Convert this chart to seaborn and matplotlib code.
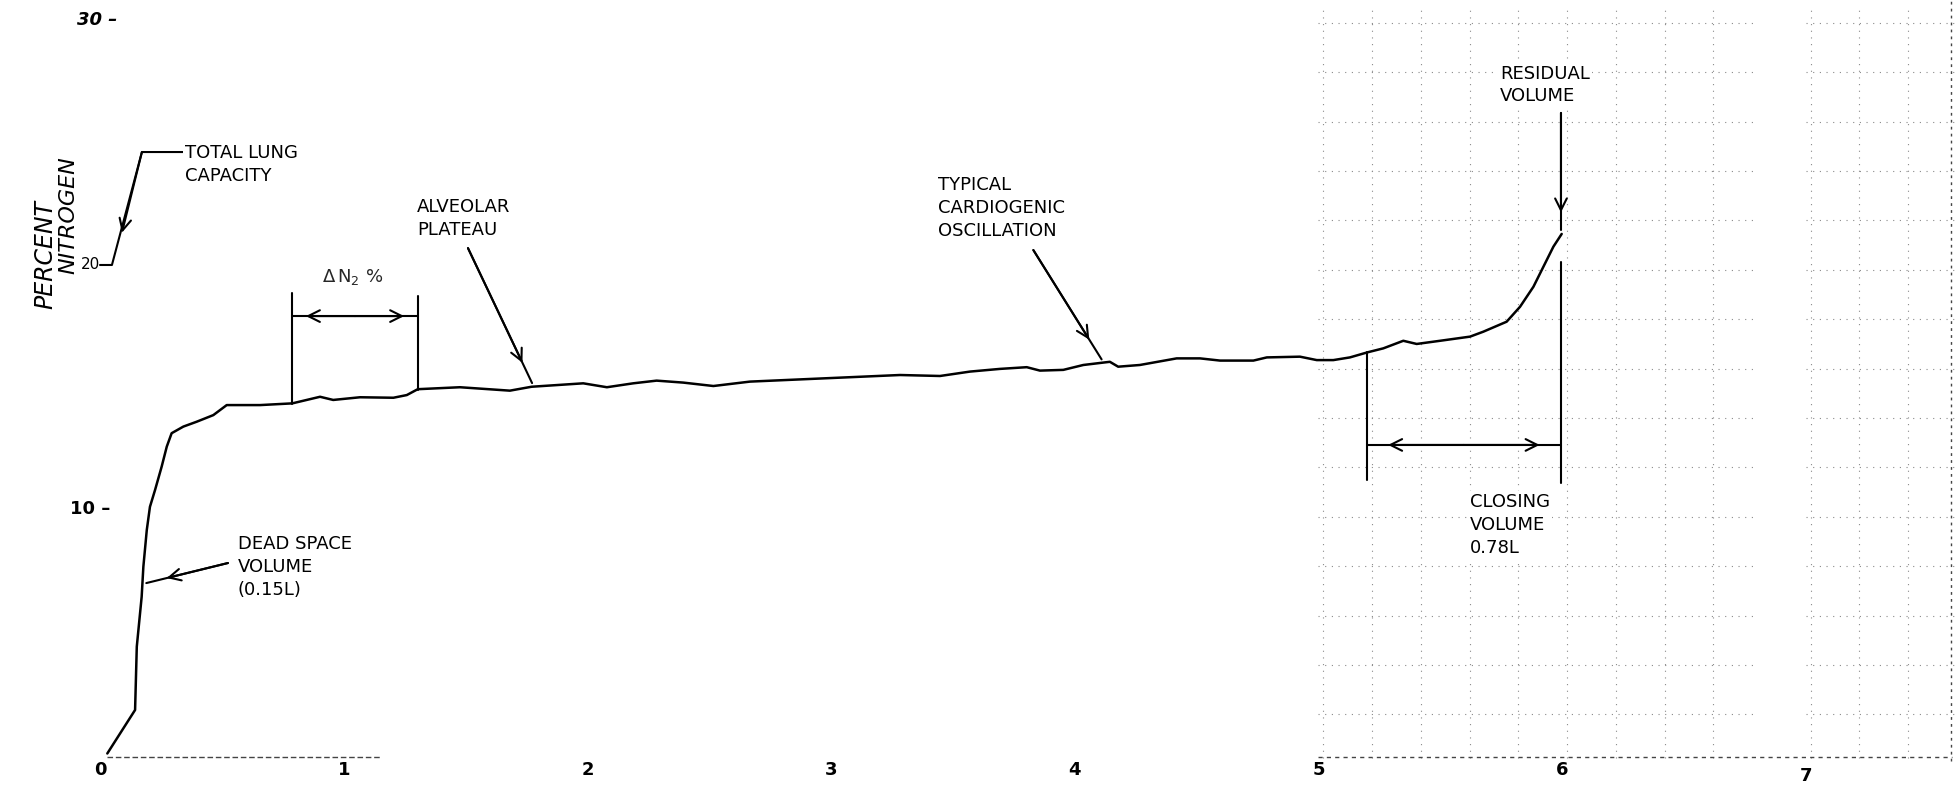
import numpy as np
import pandas as pd
import matplotlib
matplotlib.use('Agg')
import matplotlib.pyplot as plt
import seaborn as sns

# nitrogen washout trace (volume expired in L, percent N2)
volume = [0.03, 0.144, 0.151, 0.171, 0.178, 0.192, 0.205, 0.226, 0.253, 0.274, 0.294,
          0.342, 0.397, 0.465, 0.520, 0.657, 0.789, 0.903, 0.957, 1.067, 1.204, 1.259,
          1.304, 1.477, 1.682, 1.771, 1.983, 2.08, 2.188, 2.284, 2.393, 2.517, 2.667,
          2.872, 3.283, 3.447, 3.570, 3.693, 3.803, 3.857, 3.953, 4.035, 4.110, 4.144,
          4.178, 4.267, 4.418, 4.514, 4.596, 4.733, 4.788, 4.924, 4.993, 5.061, 5.129,
          5.202, 5.266, 5.348, 5.403, 5.499, 5.622, 5.676, 5.772, 5.827, 5.882, 5.923,
          5.964, 5.998]
n2_pct = [0.0, 1.78, 4.37, 6.41, 7.64, 9.14, 10.09, 10.78, 11.73, 12.55, 13.10,
          13.37, 13.57, 13.84, 14.25, 14.25, 14.32, 14.59, 14.46, 14.57, 14.55, 14.66,
          14.90, 14.98, 14.84, 15.00, 15.14, 14.98, 15.14, 15.25, 15.17, 15.03, 15.21,
          15.30, 15.48, 15.44, 15.62, 15.73, 15.80, 15.66, 15.69, 15.89, 15.98, 16.02,
          15.82, 15.89, 16.16, 16.16, 16.07, 16.07, 16.20, 16.23, 16.09, 16.09, 16.20,
          16.41, 16.57, 16.88, 16.75, 16.88, 17.05, 17.25, 17.66, 18.27, 19.09, 19.91,
          20.73, 21.25]

x_ticks = [0, 1, 2, 3, 4, 5, 6, 7]
y_ticks = ['30 –', '20', '10 –']
y_tick_vals = [30, 20, 10]

# markers
dead_space = 0.19
plateau_start, plateau_end = 0.788, 1.305
closing_start, residual = 5.198, 5.995
label_closing = 'CLOSING\nVOLUME\n0.78L'

df = pd.DataFrame({'volume': volume, 'n2': n2_pct})

sns.set_theme(style='white')
plt.rcParams['font.family'] = ['DejaVu Sans']

fig = plt.figure(figsize=(19.56, 7.92), dpi=100)
ax = fig.add_axes([0, 0, 1, 1])
ax.set_xlim(-0.4103, 7.616)
ax.set_ylim(-1.575, 30.818)
ax.axis('off')

# faint chart-paper grid left over on the right part of the scan
dot = dict(color='#8a8a8a', lw=0.8, linestyle=(0, (1, 5)), zorder=0)
h_levels = np.arange(1.6, 30.5, 2.02)
ax.hlines(h_levels, 5.0, 6.8, **dot)
ax.hlines(h_levels, 7.0, 7.62, **dot)
ax.vlines(np.arange(5.02, 6.7, 0.2), -0.2, 30.5, **dot)
ax.vlines([7.02, 7.22, 7.42], -0.2, 30.5, **dot)
ax.vlines([7.595], -0.3, 30.8, color='#444444', lw=1.0, linestyle=(0, (2, 3)), zorder=0)
ax.hlines([-0.15], 5.0, 7.6, color='#444444', lw=1.0, linestyle=(0, (3, 3)), zorder=0)
ax.hlines([-0.15], 0.03, 1.15, color='#444444', lw=1.0, linestyle=(0, (4, 2)), zorder=0)

sns.lineplot(data=df, x='volume', y='n2', ax=ax, color='black', lw=1.8,
             sort=False, estimator=None, zorder=3)
ax.axis('off')

txt = dict(fontsize=13, color='black', linespacing=1.35, zorder=5,
           bbox=dict(fc='white', ec='none', pad=1.5))
lw_ann = 1.5


def barb_line(p0, p1, frac):
    # hand drawn style: line to the target, barb a little before the end
    ax.plot([p0[0], p1[0]], [p0[1], p1[1]], color='black', lw=lw_ann, zorder=4)
    bx = p0[0] + (p1[0] - p0[0]) * frac
    by = p0[1] + (p1[1] - p0[1]) * frac
    ax.annotate('', xy=(bx, by), xytext=p0,
                arrowprops=dict(arrowstyle='->,head_length=0.7,head_width=0.35',
                                lw=lw_ann, color='black', shrinkA=0, shrinkB=0), zorder=4)


def double_arrow(x0, x1, y):
    ax.plot([x0, x1], [y, y], color='black', lw=lw_ann, zorder=4)
    mid = (x0 + x1) / 2
    inset = (x1 - x0) * 0.11
    for end in (x0 + inset, x1 - inset):
        ax.annotate('', xy=(end, y), xytext=(mid, y),
                    arrowprops=dict(arrowstyle='->,head_length=0.7,head_width=0.35',
                                    lw=lw_ann, color='black', shrinkA=0, shrinkB=0), zorder=4)


# total lung capacity leader
ax.plot([0.349, 0.172, 0.049, 0.0], [24.6, 24.6, 19.98, 19.98], color='black', lw=lw_ann, zorder=4)
ax.annotate('', xy=(0.09, 21.3), xytext=(0.172, 24.6),
            arrowprops=dict(arrowstyle='->,head_length=0.7,head_width=0.35',
                            lw=lw_ann, color='black', shrinkA=0, shrinkB=0))
ax.text(0.349, 24.09, 'TOTAL LUNG\nCAPACITY', ha='left', va='center', **txt)

# delta N2 bracket
ax.plot([plateau_start, plateau_start], [14.29, 18.84], color='black', lw=lw_ann)
ax.plot([plateau_end, plateau_end], [14.87, 18.71], color='black', lw=lw_ann)
double_arrow(plateau_start, plateau_end, 17.89)
ax.text(1.038, 19.49, r'$\Delta\,$N$_2$ %', ha='center', va='center', fontsize=13)

# alveolar plateau
ax.text(1.301, 21.88, 'ALVEOLAR\nPLATEAU', ha='left', va='center', **txt)
barb_line((1.510, 20.67), (1.773, 15.15), 0.85)

# cardiogenic oscillation
ax.text(3.439, 22.31, 'TYPICAL\nCARDIOGENIC\nOSCILLATION', ha='left', va='center', **txt)
barb_line((3.830, 20.59), (4.110, 16.12), 0.82)

# residual volume
ax.text(5.745, 27.34, 'RESIDUAL\nVOLUME', ha='left', va='center', **txt)
barb_line((residual, 26.2), (residual, 21.41), 0.85)

# closing volume bracket
ax.plot([closing_start, closing_start], [11.19, 16.41], color='black', lw=lw_ann, zorder=4)
ax.plot([residual, residual], [11.05, 20.11], color='black', lw=lw_ann, zorder=4)
double_arrow(closing_start, residual, 12.62)
ax.text(5.622, 9.35, label_closing, ha='left', va='center', **txt)

# dead space
ax.text(0.566, 7.63, 'DEAD SPACE\nVOLUME\n(0.15L)', ha='left', va='center', **txt)
barb_line((0.525, 7.79), (dead_space, 6.97), 0.75)

# axis numbers
for v in x_ticks:
    ax.text(v, -0.67 if v < 7 else -0.91, str(v), ha='center', va='center',
            fontsize=13, fontweight='bold', color='black')
ax.text(-0.0, y_tick_vals[1], y_ticks[1], ha='right', va='center', fontsize=11,
        color='black')
ax.text(-0.094, y_tick_vals[0], y_ticks[0], ha='left', va='center', fontsize=13,
        fontstyle='italic', fontweight='bold', color='black')
ax.text(-0.123, y_tick_vals[2], y_ticks[2], ha='left', va='center', fontsize=13,
        fontweight='bold', color='black')

# handwritten axis title
ax.text(-0.225, 20.4, 'PERCENT', rotation=90, ha='center', va='center',
        fontsize=17, fontstyle='italic', color='black')
ax.text(-0.13, 22.0, 'NITROGEN', rotation=90, ha='center', va='center',
        fontsize=16, fontstyle='italic', color='black')

fig.savefig('out.png', dpi=100)
